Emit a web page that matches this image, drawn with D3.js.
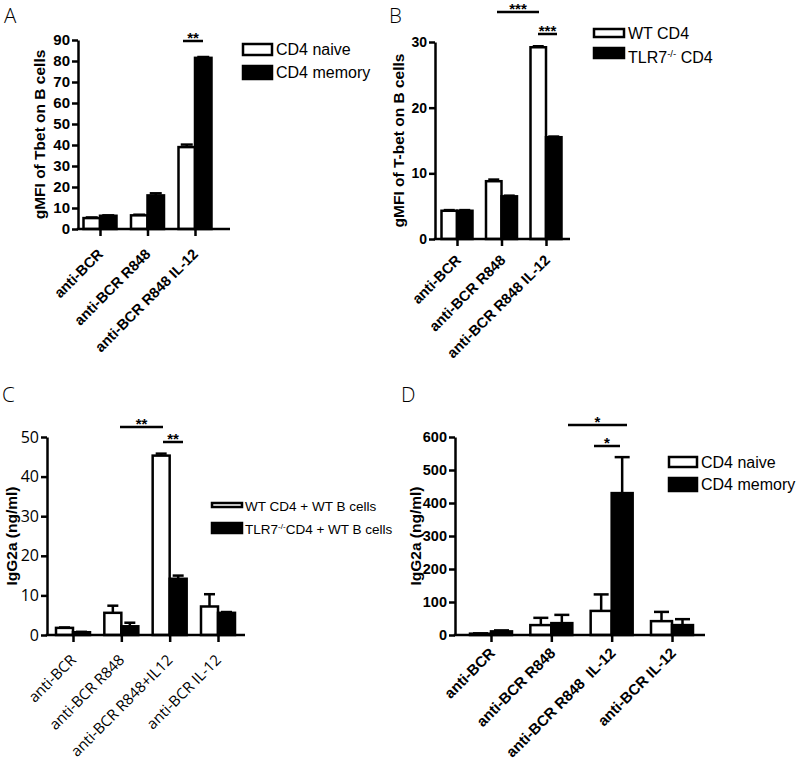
<!DOCTYPE html>
<html><head><meta charset="utf-8">
<script src="https://cdn.jsdelivr.net/npm/d3@7"></script>
<style>body{margin:0;background:#fff}svg{display:block}</style>
</head><body>
<svg id="c" width="800" height="761"></svg>
<script>
// ---------- data ----------
const catsA = ["anti-BCR", "anti-BCR R848", "anti-BCR R848 IL-12"];
const aNaive = [5.2, 6.5, 39];
const aNaiveErr = [0.3, 0.3, 1.2];
const aMemory = [6.3, 16, 81.5];
const aMemoryErr = [0.2, 1.0, 0.4];
const ticksA = [0, 10, 20, 30, 40, 50, 60, 70, 80, 90];

const catsB = ["anti-BCR", "anti-BCR R848", "anti-BCR R848 IL-12"];
const bWT = [4.3, 8.8, 29.2];
const bWTErr = [0.1, 0.25, 0.15];
const bTLR = [4.3, 6.5, 15.5];
const bTLRErr = [0.1, 0.1, 0.1];
const ticksB = [0, 10, 20, 30];

const catsC = ["anti-BCR", "anti-BCR R848", "anti-BCR R848+IL12", "anti-BCR IL-12"];
const cWT = [1.8, 5.6, 45.3, 7.2];
const cWTErr = [0.1, 1.8, 0.5, 3.1];
const cTLR = [0.7, 2.2, 14.2, 5.6];
const cTLRErr = [0.1, 0.9, 0.8, 0.2];
const ticksC = [0, 10, 20, 30, 40, 50];

const catsD = ["anti-BCR", "anti-BCR R848", "anti-BCR R848  IL-12", "anti-BCR IL-12"];
const dNaive = [4, 30, 73, 42];
const dNaiveErr = [1, 22, 50, 28];
const dMemory = [11, 36, 430, 30];
const dMemoryErr = [3, 25, 109, 18];
const ticksD = [0, 100, 200, 300, 400, 500, 600];

// ---------- drawing ----------
const svg = d3.select("#c");
const HEL = "'Liberation Sans', Arial, Helvetica, sans-serif";
const MYR = "'Open Sans', 'Noto Sans', sans-serif";

function panel(o) {
  const g = svg.append("g");
  const y = d3.scaleLinear().domain([0, o.ymax]).range([o.y0, o.yTop]);
  const x = d3.scalePoint().domain(o.cats).range([o.c0, o.c1]);

  // bars + error bars
  o.series.forEach((s, si) => {
    s.vals.forEach((v, i) => {
      const cx = x(o.cats[i]);
      const left = si === 0 ? cx - o.bw : cx;
      const mid = left + o.bw / 2;
      const e = s.err[i];
      if (e > 0) {
        g.append("line").attr("x1", mid).attr("x2", mid)
          .attr("y1", y(v)).attr("y2", y(v + e))
          .attr("stroke", "#000").attr("stroke-width", 2.5);
        g.append("line").attr("x1", mid - o.cap / 2).attr("x2", mid + o.cap / 2)
          .attr("y1", y(v + e)).attr("y2", y(v + e))
          .attr("stroke", "#000").attr("stroke-width", 2.5);
      }
      g.append("rect").attr("x", left).attr("y", y(v))
        .attr("width", o.bw).attr("height", o.y0 - y(v))
        .attr("fill", si === 0 ? "#fff" : "#000")
        .attr("stroke", "#000").attr("stroke-width", 2.5);
    });
  });

  // y axis
  const ya = g.append("g").attr("transform", `translate(${o.x0},0)`)
    .call(d3.axisLeft(y).tickValues(o.ticks).tickSize(6).tickSizeOuter(0).tickPadding(2));
  ya.select(".domain").attr("stroke-width", 2.5);
  ya.selectAll(".tick line").attr("stroke-width", 2.5);
  ya.selectAll(".tick text").attr("font-family", o.tickFont).attr("font-weight", o.tickWeight)
    .attr("font-size", o.tickSize).attr("fill", "#000");

  // x axis
  g.append("line").attr("x1", o.x0 - 1.25).attr("x2", o.xEnd).attr("y1", o.y0).attr("y2", o.y0)
    .attr("stroke", "#000").attr("stroke-width", 2.5);
  const xa = g.append("g").attr("transform", `translate(0,${o.y0})`)
    .call(d3.axisBottom(x).tickSize(7).tickFormat(""));
  xa.select(".domain").remove();
  xa.selectAll(".tick line").attr("stroke-width", 2.5);
  o.cats.forEach(c => {
    g.append("text").attr("transform", `translate(${x(c) + o.lx},${o.y0 + o.ly}) rotate(-45)`)
      .attr("text-anchor", "end").attr("font-family", o.tickFont).attr("font-weight", o.tickWeight)
      .attr("font-size", o.labSize).style("white-space", "pre").text(c);
  });

  // y title
  g.append("text").attr("transform", `translate(${o.tx},${(o.y0 + o.yTop) / 2}) rotate(-90)`)
    .attr("text-anchor", "middle").attr("font-family", HEL).attr("font-weight", "bold")
    .attr("font-size", o.titleSize).text(o.title);

  // significance
  o.sig.forEach(s => {
    g.append("line").attr("x1", s.x1).attr("x2", s.x2).attr("y1", s.y).attr("y2", s.y)
      .attr("stroke", "#000").attr("stroke-width", 2.5);
    g.append("text").attr("x", (s.x1 + s.x2) / 2).attr("y", s.y + 2).attr("text-anchor", "middle")
      .attr("font-family", HEL).attr("font-weight", "bold").attr("font-size", 15).text(s.t);
  });

  // legend
  o.legend.forEach((l, i) => {
    g.append("rect").attr("x", l.x).attr("y", l.y).attr("width", l.w).attr("height", l.h)
      .attr("fill", i === 0 ? "#fff" : "#000").attr("stroke", "#000").attr("stroke-width", 2.5);
    const t = g.append("text").attr("x", l.tx).attr("y", l.ty).attr("font-family", HEL)
      .attr("font-size", o.legSize);
    if (l.sup) {
      t.append("tspan").text(l.pre);
      t.append("tspan").attr("font-size", o.legSize * 0.6).attr("dy", -o.legSize * 0.4).text(l.sup);
      t.append("tspan").attr("dy", o.legSize * 0.4).text(l.post);
    } else t.text(l.label);
  });

  // panel letter
  svg.append("text").attr("x", o.px).attr("y", o.py).attr("font-family", MYR)
    .attr("font-size", 20.5).attr("font-weight", 300).text(o.letter);
}

panel({
  letter: "A", px: 4, py: 23,
  cats: catsA, ymax: 90, ticks: ticksA, y0: 229, yTop: 40, x0: 78, xEnd: 230,
  c0: 100, c1: 195, bw: 16.5, cap: 12,
  series: [{vals: aNaive, err: aNaiveErr}, {vals: aMemory, err: aMemoryErr}],
  tickFont: HEL, tickWeight: "bold", tickSize: 15, labSize: 14.5, lx: 4, ly: 26,
  title: "gMFI of Tbet on B cells", tx: 45, titleSize: 15.5,
  sig: [{x1: 183, x2: 203, y: 41, t: "**"}],
  legSize: 16,
  legend: [{x: 243, y: 44, w: 29, h: 11, tx: 276, ty: 55, label: "CD4 naive"},
           {x: 243, y: 66, w: 29, h: 13, tx: 276, ty: 78, label: "CD4 memory"}]
});

panel({
  letter: "B", px: 389, py: 23,
  cats: catsB, ymax: 30, ticks: ticksB, y0: 239, yTop: 42, x0: 435, xEnd: 570,
  c0: 457, c1: 546, bw: 15.5, cap: 11,
  series: [{vals: bWT, err: bWTErr}, {vals: bTLR, err: bTLRErr}],
  tickFont: HEL, tickWeight: "bold", tickSize: 14, labSize: 14.5, lx: 5, ly: 22,
  title: "gMFI of T-bet on B cells", tx: 404, titleSize: 15.5,
  sig: [{x1: 497, x2: 539, y: 12, t: "***"}, {x1: 538, x2: 557, y: 34, t: "***"}],
  legSize: 16,
  legend: [{x: 594, y: 29, w: 30, h: 8, tx: 628, ty: 39, label: "WT CD4"},
           {x: 594, y: 48, w: 30, h: 10, tx: 628, ty: 63, pre: "TLR7", sup: "-/-", post: " CD4"}]
});

panel({
  letter: "C", px: 2, py: 402,
  cats: catsC, ymax: 50, ticks: ticksC, y0: 635, yTop: 437, x0: 47, xEnd: 245,
  c0: 73, c1: 218, bw: 17, cap: 11,
  series: [{vals: cWT, err: cWTErr}, {vals: cTLR, err: cTLRErr}],
  tickFont: MYR, tickWeight: "normal", tickSize: 16, labSize: 15, lx: 4, ly: 26,
  title: "IgG2a (ng/ml)", tx: 17, titleSize: 15.5,
  sig: [{x1: 120, x2: 163, y: 427, t: "**"}, {x1: 163, x2: 183, y: 442, t: "**"}],
  legSize: 13.5,
  legend: [{x: 212, y: 503, w: 30, h: 4, tx: 245, ty: 511, label: "WT CD4 + WT B cells"},
           {x: 212, y: 523, w: 30, h: 10, tx: 245, ty: 534, pre: "TLR7", sup: "-/-", post: "CD4 + WT B cells"}]
});

panel({
  letter: "D", px: 401, py: 402,
  cats: catsD, ymax: 600, ticks: ticksD, y0: 635, yTop: 437, x0: 455, xEnd: 705,
  c0: 491, c1: 672, bw: 21, cap: 15,
  series: [{vals: dNaive, err: dNaiveErr}, {vals: dMemory, err: dMemoryErr}],
  tickFont: HEL, tickWeight: "bold", tickSize: 14.5, labSize: 15, lx: 5, ly: 19,
  title: "IgG2a (ng/ml)", tx: 421, titleSize: 15.5,
  sig: [{x1: 568, x2: 627, y: 425, t: "*"}, {x1: 594, x2: 620, y: 446, t: "*"}],
  legSize: 16,
  legend: [{x: 669, y: 457, w: 28, h: 10, tx: 701, ty: 468, label: "CD4 naive"},
           {x: 669, y: 478, w: 28, h: 13, tx: 701, ty: 490, label: "CD4 memory"}]
});
</script>
</body></html>
